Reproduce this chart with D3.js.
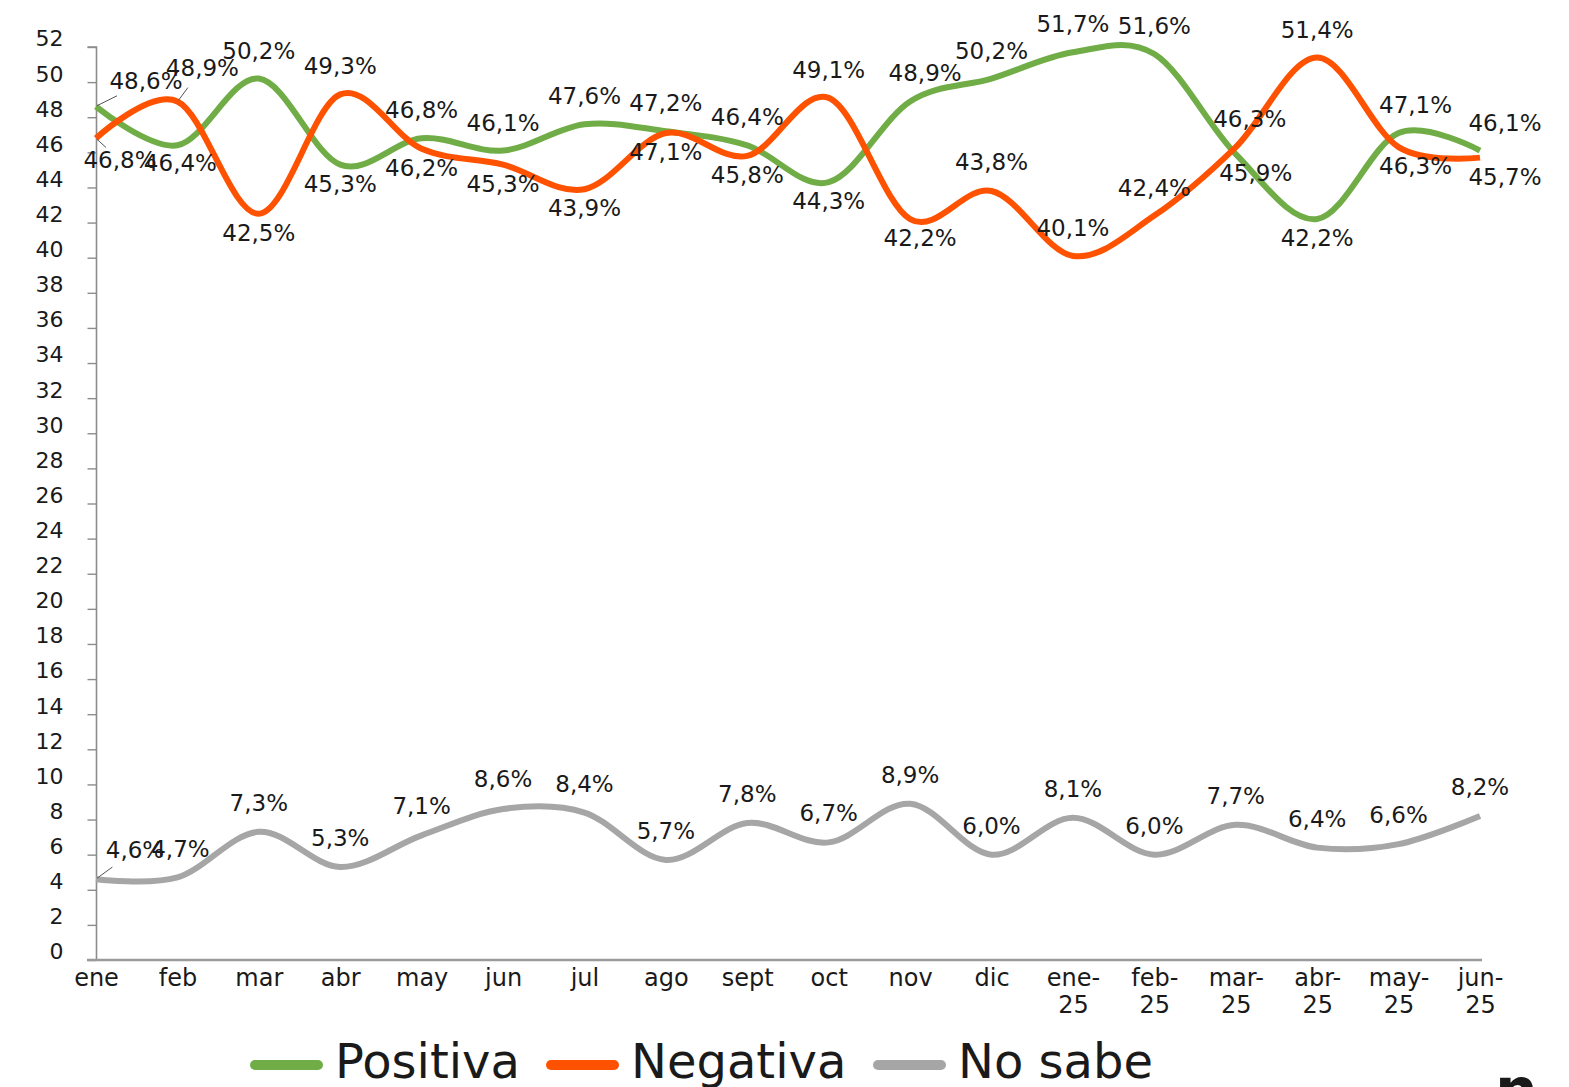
<!DOCTYPE html>
<html>
<head>
<meta charset="utf-8">
<script src="https://cdn.jsdelivr.net/npm/d3@7"></script>
<style>
  html, body { margin: 0; padding: 0; background: #fff; overflow: hidden; }
  svg { display: block; }
  text { font-family: "DejaVu Sans", sans-serif; fill: #1a1a1a; }
</style>
</head>
<body>
<svg id="chart" width="1569" height="1087"></svg>
<script>
// ---------------- DATA ----------------
const categories = ["ene","feb","mar","abr","may","jun","jul","ago","sept","oct","nov","dic",
  "ene-25","feb-25","mar-25","abr-25","may-25","jun-25"];
const positiva = [48.6,46.4,50.2,45.3,46.8,46.1,47.6,47.2,46.4,44.3,48.9,50.2,51.7,51.6,45.9,42.2,47.1,46.1];
const negativa = [46.8,48.9,42.5,49.3,46.2,45.3,43.9,47.1,45.8,49.1,42.2,43.8,40.1,42.4,46.3,51.4,46.3,45.7];
const noSabe   = [4.6,4.7,7.3,5.3,7.1,8.6,8.4,5.7,7.8,6.7,8.9,6.0,8.1,6.0,7.7,6.4,6.6,8.2];
const yTicks = d3.range(0, 53, 2);
const seriesNames = ["Positiva","Negativa","No sabe"];

// ---------------- LAYOUT / STYLE ----------------
const colors = ["#70AD47", "#FF5200", "#A6A6A6"];
// label placement: [dx, dy] offset of label centre from point
const labelOffsets = [
  [[50,-26],[3,18],[0,-28],[0,19],[0,-28],[0,-28],[0,-28],[0,-28],[0,-28],[0,19],[15,-28],[0,-28],[0,-28],[0,-28],[20,19],[0,19],[17,-28],[25,-28]],
  [[24,22],[25,-33],[0,19],[0,-28],[0,19],[0,19],[0,19],[0,19],[0,19],[0,-28],[10,19],[0,-29],[0,-28],[0,-28],[14,-28],[0,-28],[17,19],[25,19]],
  [[39,-29],[3,-28],[0,-29],[0,-29],[0,-29],[0,-30],[0,-29],[0,-29],[0,-29],[0,-29],[0,-29],[0,-29],[0,-29],[0,-29],[0,-29],[0,-29],[0,-29],[0,-29]]
];
const leaders = [[0],[0,1],[0]];

const svg = d3.select("#chart");
const x = d3.scalePoint().domain(categories).range([96, 1480]);
const y = d3.scaleLinear().domain([0, 52]).range([960, 47]);

// Y axis
const yAxis = d3.axisLeft(y).tickValues(yTicks).tickSize(9).tickPadding(24);
const gy = svg.append("g").attr("transform", "translate(96.5,0)").call(yAxis);
gy.select(".domain").attr("stroke", "#8c8c8c").attr("stroke-width", 1.6).attr("d", `M-9,${y(52)}H0V${y(0)}`);
gy.selectAll(".tick line").attr("stroke", "#8c8c8c").attr("stroke-width", 1.4);
gy.selectAll(".tick text").attr("font-size", 22).attr("font-family", "DejaVu Sans").attr("fill", "#1a1a1a").attr("dy", "-0.05em");

// X axis
const xAxis = d3.axisBottom(x).tickSize(0).tickPadding(0).tickFormat(() => "");
const gx = svg.append("g").attr("transform", `translate(0,${y(0)})`).call(xAxis);
gx.select(".domain").attr("stroke", "#9a9a9a").attr("stroke-width", 2.6).attr("d", `M87,0H${x("jun-25") + 2}`);
gx.selectAll(".tick").each(function(d) {
  const parts = d.includes("-") ? [d.split("-")[0] + "-", d.split("-")[1]] : [d];
  const t = d3.select(this).append("text").attr("text-anchor", "middle")
    .attr("font-size", 24).attr("fill", "#1a1a1a");
  parts.forEach((p, i) => t.append("tspan").attr("x", 0).attr("y", 26 + i * 27).text(p));
});

// Lines
const line = d3.line().x((d, i) => x(categories[i])).y(d => y(d)).curve(d3.curveCatmullRom.alpha(0));
const allSeries = [positiva, negativa, noSabe];
const order = [2, 0, 1];
order.forEach(si => {
  svg.append("path").datum(allSeries[si]).attr("d", line)
    .attr("fill", "none").attr("stroke", colors[si]).attr("stroke-width", 6)
    .attr("stroke-linecap", "butt").attr("stroke-linejoin", "round");
});

// Labels
const fmt = v => v.toFixed(1).replace(".", ",") + "%";
allSeries.forEach((vals, si) => {
  vals.forEach((v, i) => {
    const px = x(categories[i]), py = y(v);
    const [dx, dy] = labelOffsets[si][i];
    if (leaders[si].includes(i)) {
      svg.append("line").attr("x1", px + 1).attr("y1", py + (dy > 0 ? 1 : -1))
        .attr("x2", px + dx * 0.42).attr("y2", py + dy * 0.42)
        .attr("stroke", "#555").attr("stroke-width", 1);
    }
    svg.append("text").attr("x", px + dx).attr("y", py + dy)
      .attr("text-anchor", "middle").attr("dominant-baseline", "central")
      .attr("font-size", 23).text(fmt(v));
  });
});

// Legend
const legendX = [255, 551, 878];
seriesNames.forEach((name, i) => {
  svg.append("line").attr("x1", legendX[i]).attr("x2", legendX[i] + 63)
    .attr("y1", 1065).attr("y2", 1065).attr("stroke", colors[i])
    .attr("stroke-width", 10).attr("stroke-linecap", "round");
  svg.append("text").attr("x", legendX[i] + 80).attr("y", 1078)
    .attr("font-size", 48).attr("fill", "#111").text(name);
});

// partial logo glyph at bottom-right corner
svg.append("text").attr("x", 1495).attr("y", 1111).attr("font-size", 60)
  .attr("font-weight", "bold").attr("fill", "#000").text("n");
</script>
</body>
</html>
